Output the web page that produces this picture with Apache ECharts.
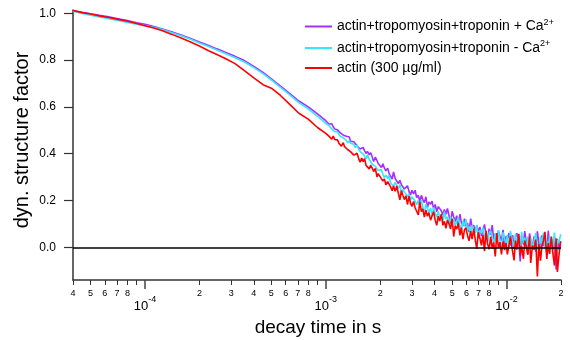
<!DOCTYPE html>
<html><head><meta charset="utf-8">
<script src="https://cdn.jsdelivr.net/npm/echarts@6/dist/echarts.min.js"></script>
<style>html,body{margin:0;padding:0;background:#fff}#c{width:570px;height:340px}</style>
</head><body><div id="c"></div>
<script>
// ---------- data ----------
const seriesNames = ['actin+tropomyosin+troponin + Ca2+', 'actin+tropomyosin+troponin - Ca2+', 'actin (300 µg/ml)'];
const seriesColors = ['#a82cff', '#33e8fa', '#ff0000'];
// decay time in microseconds
const timeMicroseconds = [40,45,50,56,63,71,80,90,100,112,125,140,160,180,200,225,250,280,315,355,400,450,500,560,630,710,800,900,1000,
1020,1040,1060,1080,1100,1120,1140,1160,1180,1200,
1220,1250,1270,1300,1320,1350,1370,1400,1430,1460,
1490,1520,1550,1580,1610,1640,1670,1700,1740,1770,
1810,1840,1880,1920,1950,1990,2030,2070,2110,2150,
2200,2240,2280,2330,2370,2420,2470,2520,2570,2620,
2670,2720,2780,2830,2890,2940,3000,3060,3120,3180,
3250,3310,3380,3440,3510,3580,3650,3720,3800,3870,
3950,4030,4110,4190,4270,4360,4440,4530,4620,4710,
4810,4900,5000,5100,5200,5300,5410,5520,5620,5740,
5850,5960,6080,6200,6330,6450,6580,6710,6840,6980,
7120,7260,7400,7550,7700,7850,8010,8170,8330,8490,
8660,8830,9010,9190,9370,9560,9750,9940,10100,10300,
10500,10800,11000,11200,11400,11700,11900,12100,12400,12600,
12900,13100,13400,13600,13900,14200,14500,14800,15100,15400,
15700,16000,16300,16700,17000,17300,17700,18000,18400,18800,
19100,19500,19900];
const withCa = [1.012,1.004,0.998,0.991,0.985,0.977,0.969,0.960,0.953,0.943,
0.933,0.921,0.906,0.891,0.877,0.862,0.848,0.833,0.816,0.798,
0.773,0.747,0.720,0.690,0.658,0.625,0.600,0.570,0.541,
0.537,0.527,0.527,0.528,0.515,0.506,0.512,0.502,0.506,0.490,
0.490,0.479,0.484,0.475,0.467,0.471,0.453,0.458,0.451,0.451,
0.434,0.440,0.420,0.428,0.427,0.412,0.401,0.410,0.395,0.405,
0.385,0.367,0.385,0.371,0.358,0.364,0.341,0.357,0.338,0.327,
0.338,0.315,0.319,0.292,0.322,0.294,0.297,0.272,0.286,0.267,
0.272,0.249,0.257,0.263,0.238,0.223,0.244,0.228,0.244,0.213,
0.222,0.196,0.222,0.205,0.191,0.216,0.169,0.194,0.184,0.197,
0.164,0.183,0.152,0.174,0.177,0.155,0.140,0.162,0.141,0.166,
0.134,0.101,0.154,0.131,0.110,0.135,0.091,0.142,0.107,0.091,
0.122,0.090,0.104,0.065,0.123,0.083,0.095,0.063,0.094,0.068,
0.087,0.048,0.073,0.098,0.053,0.027,0.080,0.053,0.095,0.033,
0.058,0.020,0.070,0.048,0.029,0.075,0.000,0.048,0.035,0.061,
0.007,0.052,-0.006,0.045,0.060,0.021,-0.060,0.050,0.011,0.069,
0.014,-0.032,0.059,0.029,0.001,0.047,-0.019,0.068,0.016,-0.003,
0.051,0.005,0.031,-0.026,0.071,0.012,0.036,-0.012,0.042,-0.095,
0.036,-0.010,0.025];
const withoutCa = [1.009,0.999,0.992,0.984,0.977,0.969,0.961,0.953,0.947,0.940,
0.931,0.918,0.903,0.888,0.873,0.858,0.843,0.827,0.810,0.792,
0.768,0.742,0.715,0.685,0.652,0.618,0.592,0.560,0.530,
0.528,0.521,0.520,0.506,0.508,0.494,0.497,0.494,0.484,0.475,
0.478,0.468,0.470,0.457,0.446,0.455,0.446,0.438,0.440,0.426,
0.438,0.419,0.409,0.417,0.399,0.399,0.378,0.396,0.375,0.374,
0.355,0.362,0.346,0.347,0.328,0.330,0.332,0.312,0.298,0.308,
0.294,0.308,0.276,0.282,0.260,0.278,0.264,0.251,0.268,0.230,
0.247,0.237,0.244,0.217,0.229,0.202,0.216,0.216,0.197,0.182,
0.200,0.177,0.202,0.171,0.145,0.185,0.167,0.150,0.168,0.132,
0.171,0.143,0.130,0.153,0.128,0.138,0.108,0.153,0.121,0.130,
0.100,0.131,0.106,0.122,0.091,0.110,0.128,0.093,0.072,0.111,
0.090,0.121,0.072,0.089,0.059,0.095,0.077,0.061,0.096,0.036,
0.073,0.060,0.085,0.035,0.069,0.021,0.061,0.071,0.038,0.017,
0.060,0.027,0.074,0.028,-0.010,0.064,0.038,0.014,0.051,-0.003,
0.070,0.023,0.003,0.059,0.010,0.037,-0.022,0.066,0.017,0.041,
-0.010,0.046,0.009,0.040,-0.008,0.028,0.061,0.008,-0.024,0.046,
0.015,0.063,-0.005,0.028,-0.016,0.048,0.023,0.001,0.063,-0.029,
0.032,0.019,0.056];
const actinOnly = [1.012,1.003,0.997,0.989,0.982,0.974,0.966,0.956,0.947,0.937,
0.925,0.911,0.893,0.876,0.860,0.840,0.824,0.806,0.785,0.755,
0.724,0.695,0.680,0.650,0.612,0.573,0.548,0.512,0.487,
0.484,0.475,0.479,0.462,0.475,0.461,0.453,0.459,0.446,0.447,
0.432,0.447,0.430,0.431,0.418,0.422,0.409,0.409,0.394,0.395,
0.402,0.379,0.364,0.381,0.366,0.379,0.350,0.355,0.335,0.351,
0.337,0.324,0.337,0.301,0.315,0.304,0.310,0.283,0.292,0.267,
0.281,0.283,0.259,0.242,0.262,0.239,0.262,0.231,0.203,0.242,
0.222,0.204,0.220,0.183,0.219,0.189,0.175,0.196,0.169,0.177,
0.138,0.195,0.153,0.164,0.129,0.159,0.133,0.148,0.116,0.134,
0.152,0.116,0.094,0.133,0.112,0.143,0.094,0.111,0.081,0.117,
0.099,0.078,0.123,0.046,0.092,0.078,0.102,0.051,0.084,0.035,
0.074,0.084,0.050,0.028,0.069,0.035,0.080,0.033,-0.007,0.065,
0.039,0.008,0.053,-0.017,0.070,0.014,-0.008,0.046,-0.005,0.021,
-0.039,0.061,-0.002,0.022,-0.030,0.025,-0.012,0.019,-0.030,0.006,
0.047,-0.018,-0.056,0.029,-0.010,0.058,-0.035,0.006,-0.049,0.029,
-0.002,-0.030,0.045,-0.067,0.007,-0.010,0.033,-0.125,0.015,-0.057,
0.008,0.028,0.066,-0.050,0.018,-0.028,0.046,-0.021,-0.078,0.038,
-0.105,-0.032,0.026];
const yTickValues = [0, 0.2, 0.4, 0.6, 0.8, 1.0];
const minorTickValues = [4e-5,5e-5,6e-5,7e-5,8e-5,9e-5,2e-4,3e-4,4e-4,5e-4,6e-4,7e-4,8e-4,9e-4,2e-3,3e-3,4e-3,5e-3,6e-3,7e-3,8e-3,9e-3,2e-2];
const minorLabelValues = [4e-5,5e-5,6e-5,7e-5,8e-5,2e-4,3e-4,4e-4,5e-4,6e-4,7e-4,8e-4,2e-3,3e-3,4e-3,5e-3,6e-3,7e-3,8e-3,2e-2];
const minorLabelTexts = ['4','5','6','7','8','2','3','4','5','6','7','8','2','3','4','5','6','7','8','2'];
const majorTickValues = [1e-4, 1e-3, 1e-2];
const majorExponentTexts = ['-4', '-3', '-2'];
const xMin = 4e-5, xMax = 2e-2, yMin = -0.1397, yMax = 1.0141;
// ---------- chart ----------
const FONT = '"Liberation Sans", Arial, sans-serif';
const lg = Math.log10;
const minorMap = {}; minorLabelValues.forEach((v, i) => { minorMap[lg(v).toFixed(4)] = minorLabelTexts[i]; });
const majorMap = {}; majorTickValues.forEach((v, i) => { majorMap[lg(v).toFixed(4)] = majorExponentTexts[i]; });
const legendRich = {
  'actin+tropomyosin+troponin + Ca2+': '{t|actin+tropomyosin+troponin + Ca}{s|2+}',
  'actin+tropomyosin+troponin - Ca2+': '{t|actin+tropomyosin+troponin - Ca}{s|2+}',
  'actin (300 µg/ml)': '{t|actin (300 µg/ml)}'
};
const valueLists = [withCa, withoutCa, actinOnly];
const chart = echarts.init(document.getElementById('c'), null, {renderer: 'canvas'});
const hiddenAxis = {axisLine: {show: false}, axisTick: {show: false}, axisLabel: {show: false}, splitLine: {show: false}};
chart.setOption({
  animation: false,
  backgroundColor: '#fff',
  textStyle: {fontFamily: FONT, color: '#000'},
  grid: {left: 73, right: 9, top: 10, bottom: 60, containLabel: false},
  legend: {
    orient: 'vertical', left: 305, top: 18, padding: 0, icon: 'rect',
    itemWidth: 27, itemHeight: 2, itemGap: 6, itemTextGap: 7,
    data: seriesNames,
    formatter: n => legendRich[n],
    textStyle: {fontFamily: FONT, color: '#000', rich: {
      t: {fontSize: 14, lineHeight: 17, fontFamily: FONT, color: '#000'},
      s: {fontSize: 9, verticalAlign: 'top', fontFamily: FONT, color: '#000'}
    }}
  },
  xAxis: [
    Object.assign({type: 'log', logBase: 10, min: xMin, max: xMax, gridIndex: 0}, hiddenAxis),
    {type: 'value', gridIndex: 0, position: 'bottom', min: lg(xMin), max: lg(xMax),
      axisLine: {show: true, onZero: false, lineStyle: {color: '#333', width: 1.5}},
      axisTick: {show: true, customValues: minorTickValues.map(lg), length: 5, lineStyle: {color: '#333', width: 1}},
      axisLabel: {show: true, customValues: minorLabelValues.map(lg), margin: 9, fontSize: 9, color: '#000', fontFamily: FONT,
        formatter: v => minorMap[Number(v).toFixed(4)] || ''},
      splitLine: {show: false}},
    {type: 'value', gridIndex: 0, position: 'bottom', min: lg(xMin), max: lg(xMax),
      axisLine: {show: false, onZero: false},
      axisTick: {show: true, customValues: majorTickValues.map(lg), length: 9, lineStyle: {color: '#444', width: 1.5}},
      axisLabel: {show: true, customValues: majorTickValues.map(lg), margin: 15, color: '#000',
        formatter: v => '{b|10}{s|' + (majorMap[Number(v).toFixed(4)] || '') + '}',
        rich: {b: {fontSize: 13, lineHeight: 22, fontFamily: FONT, color: '#000'},
               s: {fontSize: 9, verticalAlign: 'top', fontFamily: FONT, color: '#000'}}},
      splitLine: {show: false}}
  ],
  yAxis: {type: 'value', min: yMin, max: yMax,
    axisLine: {show: true, onZero: false, lineStyle: {color: '#333', width: 1.5}},
    axisTick: {show: true, customValues: yTickValues, length: 9, lineStyle: {color: '#333', width: 1.2}},
    axisLabel: {customValues: yTickValues, formatter: v => Number(v).toFixed(1), fontSize: 12, margin: 17, color: '#000', fontFamily: FONT},
    splitLine: {show: false}},
  graphic: [
    {type: 'text', x: 22, y: 140, rotation: Math.PI / 2,
      style: {text: 'dyn. structure factor', fontSize: 20, fontFamily: FONT, fill: '#000', align: 'center', verticalAlign: 'middle'}},
    {type: 'text', x: 318, y: 328,
      style: {text: 'decay time in s', fontSize: 19, fontFamily: FONT, fill: '#000', align: 'center', verticalAlign: 'middle'}}
  ],
  series: seriesNames.map((name, k) => ({
    name: name, type: 'line', xAxisIndex: 0, yAxisIndex: 0,
    showSymbol: false, symbol: 'none',
    color: seriesColors[k],
    lineStyle: {color: seriesColors[k], width: 1.6},
    data: timeMicroseconds.map((t, i) => [t * 1e-6, valueLists[k][i]]),
    markLine: k === 0 ? {silent: true, symbol: 'none', label: {show: false},
      lineStyle: {color: '#000', width: 1.5, type: 'solid'}, data: [{yAxis: 0}]} : undefined
  }))
});
</script></body></html>
